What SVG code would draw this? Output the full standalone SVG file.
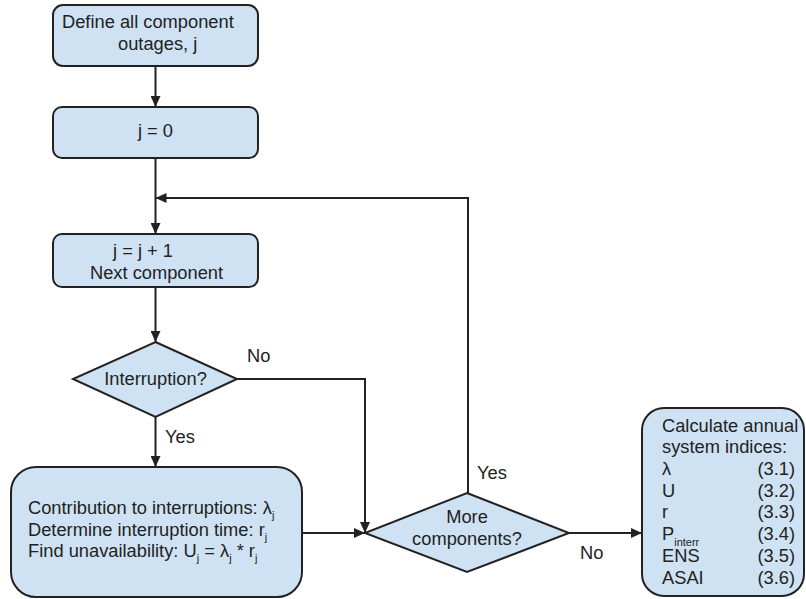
<svg xmlns="http://www.w3.org/2000/svg" width="806" height="599" viewBox="0 0 806 599">
<defs>
<marker id="arr" markerUnits="userSpaceOnUse" markerWidth="12" markerHeight="10" refX="11" refY="5" orient="auto">
<path d="M0,0 L11,5 L0,10 z" fill="#222"/>
</marker>
</defs>
<style>
.n{fill:#cfe2f3;stroke:#222;stroke-width:2}
.t{font-family:"Liberation Sans",Arial,sans-serif;font-size:18.3px;fill:#222}
.s{font-size:11px}
.c{fill:none;stroke:#222;stroke-width:2}
</style>
<rect width="806" height="599" fill="#fff"/>
<g id="connectors">
<path class="c" d="M155.5,66 V107" marker-end="url(#arr)"/>
<path class="c" d="M155.5,158 V234" marker-end="url(#arr)"/>
<path class="c" d="M468,493 V198 H155.5" marker-end="url(#arr)"/>
<path class="c" d="M155.5,287 V342" marker-end="url(#arr)"/>
<path class="c" d="M237,379 H365 V533" marker-end="url(#arr)"/>
<path class="c" d="M155.5,417 V467" marker-end="url(#arr)"/>
<path class="c" d="M302,533 H365" marker-end="url(#arr)"/>
<path class="c" d="M569,533 H642" marker-end="url(#arr)"/>
<text class="t" x="247" y="362">No</text>
<text class="t" x="165" y="443">Yes</text>
<text class="t" x="477" y="479">Yes</text>
<text class="t" x="580" y="559">No</text>
</g>
<g id="define">
<rect class="n" x="53" y="5" width="205" height="61" rx="10"/>
<text class="t" x="62" y="28">Define all component</text>
<text class="t" x="118" y="50">outages, j</text>
</g>
<g id="j0">
<rect class="n" x="53" y="107" width="205" height="51" rx="9"/>
<text class="t" x="155.5" y="137" text-anchor="middle">j = 0</text>
</g>
<g id="next">
<rect class="n" x="53" y="234" width="205" height="53" rx="9"/>
<text class="t" x="113" y="257">j = j + 1</text>
<text class="t" x="90" y="279">Next component</text>
</g>
<g id="interruption">
<polygon class="n" points="155.5,342 237,379 155.5,417 73,379"/>
<text class="t" x="155.5" y="385" text-anchor="middle">Interruption?</text>
</g>
<g id="contribution">
<rect class="n" x="11" y="467" width="291" height="130" rx="25"/>
<text class="t" x="28" y="514">Contribution to interruptions: λ<tspan class="s" dy="5">j</tspan></text>
<text class="t" x="28" y="535.5">Determine interruption time: r<tspan class="s" dy="5">j</tspan></text>
<text class="t" x="28" y="557">Find unavailability: U<tspan class="s" dy="5">j</tspan><tspan dy="-5"> = λ</tspan><tspan class="s" dy="5">j</tspan><tspan dy="-5"> * r</tspan><tspan class="s" dy="5">j</tspan></text>
</g>
<g id="more">
<polygon class="n" points="467,493 569,533 467,572 365,533"/>
<text class="t" x="467" y="523" text-anchor="middle">More</text>
<text class="t" x="467" y="545" text-anchor="middle">components?</text>
</g>
<g id="calculate">
<rect class="n" x="642" y="408" width="162" height="188" rx="22"/>
<text class="t" x="662" y="432">Calculate annual</text>
<text class="t" x="662" y="453">system indices:</text>
<text class="t" x="662" y="475">λ</text>
<text class="t" x="662" y="497">U</text>
<text class="t" x="662" y="518">r</text>
<text class="t" x="662" y="540">P<tspan class="s" dy="6">interr</tspan></text>
<text class="t" x="662" y="562">ENS</text>
<text class="t" x="662" y="584">ASAI</text>
<text class="t" x="795" y="475" text-anchor="end">(3.1)</text>
<text class="t" x="795" y="497" text-anchor="end">(3.2)</text>
<text class="t" x="795" y="518" text-anchor="end">(3.3)</text>
<text class="t" x="795" y="540" text-anchor="end">(3.4)</text>
<text class="t" x="795" y="562" text-anchor="end">(3.5)</text>
<text class="t" x="795" y="584" text-anchor="end">(3.6)</text>
</g>
</svg>
